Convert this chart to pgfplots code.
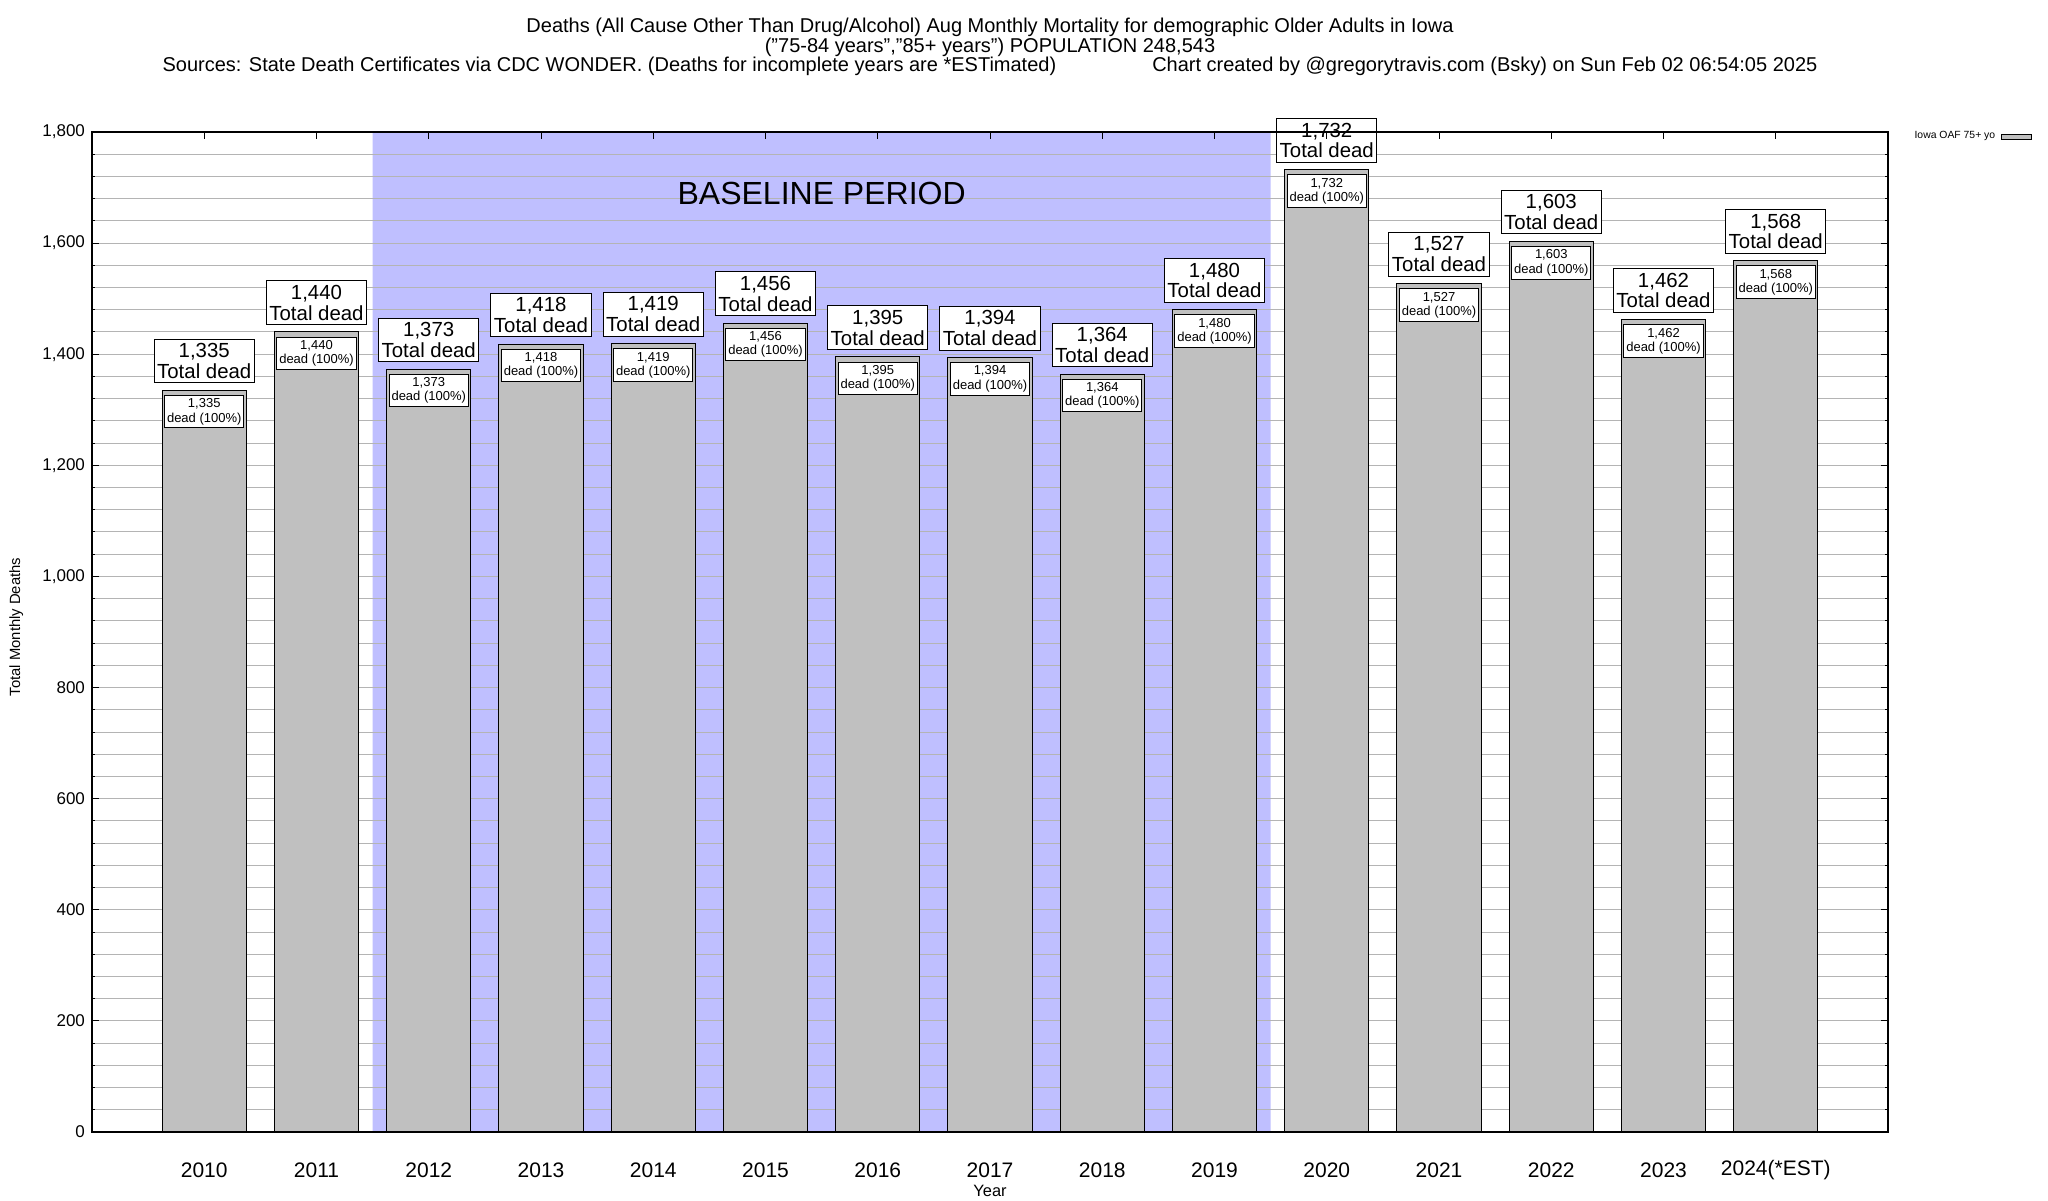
\documentclass[border=0pt]{standalone}
\usepackage{fontspec}
\setmainfont{Liberation Sans}
\usepackage{pgfplots}
\usepackage{pgfplotstable}
\pgfplotsset{compat=1.18}

\definecolor{baseblue}{RGB}{191,191,255}
\definecolor{bargray}{RGB}{192,192,192}
\definecolor{gridgray}{RGB}{180,180,180}

% axis lines drawn above the bars (as in the original)
\pgfplotsset{
  layers/barsbelow/.define layer set={axis background,axis grid,main,axis ticks,axis lines,axis tick labels,axis descriptions,axis foreground}{
    grid style={/pgfplots/on layer=axis grid},
    tick style={/pgfplots/on layer=axis ticks},
    axis line style={/pgfplots/on layer=axis lines},
    label style={/pgfplots/on layer=axis descriptions},
    legend style={/pgfplots/on layer=axis descriptions},
    title style={/pgfplots/on layer=axis descriptions},
    ticklabel style={/pgfplots/on layer=axis tick labels},
    axis background@ style={/pgfplots/on layer=axis background},
  },
}

% August deaths, Iowa 75+
\pgfplotstableread{
x y
0 1335
1 1440
2 1373
3 1418
4 1419
5 1456
6 1395
7 1394
8 1364
9 1480
10 1732
11 1527
12 1603
13 1462
14 1568
}\deaths

\begin{document}
\begin{tikzpicture}
\begin{axis}[
    at={(46pt,34pt)}, anchor=south west,
    width=898pt, height=500pt, scale only axis,
    set layers=barsbelow,
    clip=false,
    xmin=-1, xmax=15, ymin=0, ymax=1800,
    xtick={0,...,14},
    xticklabels={2010,2011,2012,2013,2014,2015,2016,2017,2018,2019,2020,2021,2022,2023,2024(*EST)},
    xtick pos=right, xticklabel pos=left,
    ytick={0,200,...,1800}, minor y tick num=4,
    ymajorgrids, yminorgrids,
    major grid style={gridgray, line width=0.5pt},
    minor grid style={gridgray, line width=0.5pt},
    tick align=inside,
    major tick length=3.5pt, minor tick length=1.5pt,
    tick style={black, line width=0.5pt},
    axis line style={line width=0.75pt},
    scaled y ticks=false,
    /pgf/number format/assume math mode=true,
    xticklabel style={font=\fontsize{10.5}{12}\selectfont, anchor=center, yshift=-19pt},
    yticklabel style={font=\fontsize{8.5}{10}\selectfont},
    xlabel={Year},
    xlabel style={font=\fontsize{8.2}{9}\selectfont, at={(axis description cs:0.5,-0.059)}, anchor=center},
    ylabel={Total Monthly Deaths},
    ylabel style={font=\fontsize{7.4}{9}\selectfont, at={(axis description cs:-0.0421,0.505)}, anchor=center},
    title={Deaths (All Cause Other Than Drug/Alcohol) Aug Monthly Mortality for demographic Older Adults in Iowa\\
      ("75-84 years","85+ years") POPULATION 248,543\\
      Sources: State Death Certificates via CDC WONDER. (Deaths for incomplete years are *ESTimated)\hspace{48pt}Chart created by @gregorytravis.com (Bsky) on Sun Feb 02 06:54:05 2025},
    title style={font=\fontsize{10}{9.8}\selectfont, align=center, at={(axis description cs:0.5,1.0731)}, anchor=center},
    legend style={draw=none, fill=none, inner sep=0pt, at={(axis description cs:1.0139,0.9953)}, anchor=west,
      font=\fontsize{5.2}{6}\selectfont, nodes={inner sep=0.6pt}, column sep=2.5pt},
    legend plot pos=right,
    legend cell align=left,
]
% baseline period shading
\addplot[fill=baseblue, draw=none, on layer=axis background, forget plot]
  coordinates {(1.5,0) (1.5,1800) (9.5,1800) (9.5,0)} \closedcycle;

% bars with the big "Total dead" labels above
\addplot[ybar, bar width=0.75, fill=bargray, draw=black, line width=0.5pt,
  legend image code/.code={\draw[fill=bargray, draw=black, line width=0.4pt] (0pt,-1.3pt) rectangle (15pt,1.3pt);},
  nodes near coords={\pgfmathprintnumber{\pgfplotspointmeta}\\Total dead},
  every node near coord/.append style={draw=black, fill=white, line width=0.5pt, align=center,
    font=\fontsize{10.2}{10.4}\selectfont, inner xsep=1.5pt, inner ysep=2.1pt, anchor=south, yshift=3.5pt, text=black}]
  table[x=x, y=y] {\deaths};
\addlegendentry{Iowa OAF 75+ yo}

% small labels inside the bar tops
\addplot[draw=none, mark=none, forget plot,
  nodes near coords={\pgfmathprintnumber{\pgfplotspointmeta}\\dead (100\%)},
  every node near coord/.append style={draw=black, fill=white, line width=0.5pt, align=center,
    font=\fontsize{6.5}{7.2}\selectfont, inner xsep=1.2pt, inner ysep=1.6pt, anchor=north, yshift=-2.3pt, text=black}]
  table[x=x, y=y] {\deaths};

\node[font=\fontsize{16}{16}\selectfont] at (axis cs:5.5,1690) {BASELINE PERIOD};
\end{axis}
\pgfresetboundingbox
\useasboundingbox (0,0) rectangle (1024pt,600pt);
\end{tikzpicture}
\end{document}
